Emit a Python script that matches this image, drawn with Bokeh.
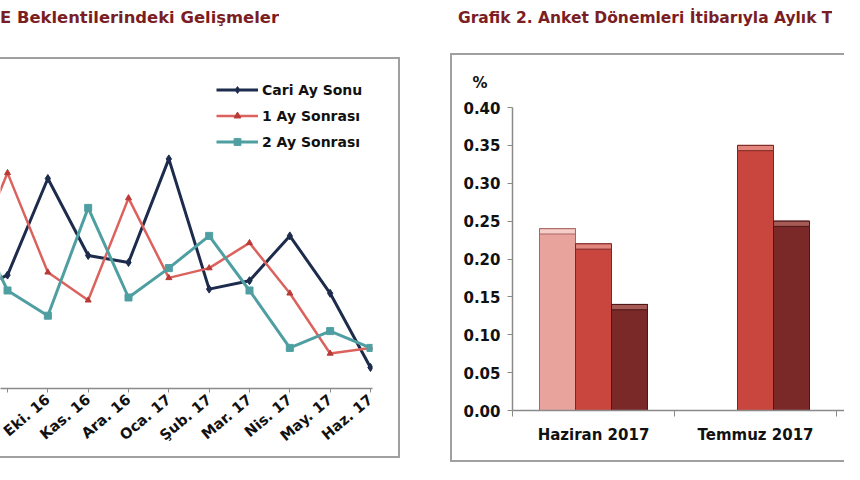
from bokeh.plotting import figure
from bokeh.layouts import row, column
from bokeh.models import (Range1d, FixedTicker, NumeralTickFormatter, Legend, LegendItem,
                          Title, Div, ColumnDataSource)
from bokeh.embed import file_html
from bokeh.resources import INLINE

# ---------------- data: left chart (monthly CPI expectations) ----------------
months = ["Ağu. 16", "Eyl. 16", "Eki. 16", "Kas. 16", "Ara. 16", "Oca. 17",
          "Şub. 17", "Mar. 17", "Nis. 17", "May. 17", "Haz. 17"]
cari_ay_sonu = [0.68, 0.81, 1.50, 0.95, 0.90, 1.64, 0.71, 0.77, 1.09, 0.68, 0.15]
bir_ay_sonrasi = [0.84, 1.54, 0.83, 0.63, 1.36, 0.79, 0.86, 1.04, 0.68, 0.25, 0.29]
iki_ay_sonrasi = [1.30, 0.70, 0.52, 1.29, 0.65, 0.86, 1.09, 0.70, 0.29, 0.41, 0.29]
series_names = ["Cari Ay Sonu", "1 Ay Sonrası", "2 Ay Sonrası"]
# months whose tick label lies outside the visible (cropped) area
hidden_labels = ["Ağu. 16", "Eyl. 16"]

# ---------------- data: right chart ----------------
periods = ["Haziran 2017", "Temmuz 2017"]
anket_a = [0.24, float("nan")]
anket_b = [0.22, 0.35]
anket_c = [0.14, 0.25]
y_ticks = [0.00, 0.05, 0.10, 0.15, 0.20, 0.25, 0.30, 0.35, 0.40]

title_left = "E Beklentilerindeki Gelişmeler"
title_right = "Grafik 2. Anket Dönemleri İtibarıyla Aylık T"

FONT = "DejaVu Sans"
TITLE_COLOR = "#7a1e24"
NAVY, RED, TEAL = "#1d2b4c", "#db625d", "#4f9fa2"
BOX = "2px solid #a0a0a0"


def style_axis(ax, size="15px"):
    ax.major_label_text_font = FONT
    ax.major_label_text_font_style = "bold"
    ax.major_label_text_font_size = size
    ax.major_label_text_color = "#111111"
    ax.axis_line_color = "#8a8a8a"
    ax.axis_line_width = 1.5
    ax.major_tick_line_color = "#8a8a8a"
    ax.major_tick_in = 0


# ================= LEFT FIGURE =================
xs = list(range(len(months)))
p1 = figure(width=398, height=397, output_backend="svg", toolbar_location=None,
            frame_width=372, frame_height=323,
            x_range=Range1d(0.826, 10.05), y_range=Range1d(0, 2.307),
            y_axis_location=None, min_border_left=0, min_border_right=26,
            min_border_top=6, min_border_bottom=68)
p1.outline_line_color = None
p1.xgrid.visible = False
p1.ygrid.visible = False

src = ColumnDataSource(dict(x=xs, a=cari_ay_sonu, b=bir_ay_sonrasi, c=iki_ay_sonrasi))
l_a = p1.line("x", "a", source=src, color=NAVY, line_width=3)
m_a = p1.scatter("x", "a", source=src, marker="diamond", size=8, color=NAVY)
l_b = p1.line("x", "b", source=src, color=RED, line_width=2.5)
m_b = p1.scatter("x", "b", source=src, marker="triangle", size=6, color="#b83a36")
l_c = p1.line("x", "c", source=src, color=TEAL, line_width=3)
m_c = p1.scatter("x", "c", source=src, marker="square", size=7, color=TEAL)

xa = p1.xaxis[0]
xa.ticker = FixedTicker(ticks=xs)
xa.major_label_overrides = {i: ("" if m in hidden_labels else m)
                            for i, m in enumerate(months)}
xa.major_label_orientation = 0.70
style_axis(xa, "14.5px")
xa.major_label_standoff = 5
xa.major_tick_out = 4
xa.minor_tick_line_color = None

legend = Legend(items=[LegendItem(label=series_names[0], renderers=[l_a, m_a]),
                       LegendItem(label=series_names[1], renderers=[l_b, m_b]),
                       LegendItem(label=series_names[2], renderers=[l_c, m_c])],
                location=(216, 238), orientation="vertical")
legend.glyph_width = 42
legend.glyph_height = 17
legend.label_height = 17
legend.spacing = 9
legend.padding = 0
legend.margin = 0
legend.label_standoff = 4
legend.label_text_font = FONT
legend.label_text_font_style = "bold"
legend.label_text_font_size = "14px"
legend.label_text_color = "#111111"
legend.border_line_color = None
legend.background_fill_alpha = 0
p1.add_layout(legend, "center")

# ================= RIGHT FIGURE =================
cat_px = 162.0
p2 = figure(width=392, height=405, output_backend="svg", toolbar_location=None,
            frame_width=332, frame_height=303,
            x_range=Range1d(0, 332 / cat_px), y_range=Range1d(0, 0.40),
            min_border_left=60, min_border_right=0, min_border_top=52,
            min_border_bottom=50)
p2.outline_line_color = None
p2.xgrid.visible = False
p2.ygrid.visible = False

centers = [i + 0.5 for i in range(len(periods))]
bw = 36.0 / cat_px
cap = 0.007
series = [(anket_a, -bw, "#e9a39d", "#f6cdc8", "#a86660"),
          (anket_b, 0.0, "#c9463f", "#e2857d", "#7d2723"),
          (anket_c, bw, "#7a2828", "#a65a56", "#4e1616")]
for vals, off, col, capcol, edge in series:
    bx = [c + off for c in centers]
    p2.vbar(x=bx, top=vals, bottom=0, width=bw, fill_color=col,
            line_color=edge, line_width=1)
    p2.vbar(x=bx, top=vals, bottom=[v - cap for v in vals], width=bw,
            fill_color=capcol, line_color=edge, line_width=1)

ya = p2.yaxis[0]
ya.ticker = FixedTicker(ticks=y_ticks)
ya.formatter = NumeralTickFormatter(format="0.00")
style_axis(ya)
ya.major_label_standoff = 7
ya.major_tick_out = 5
ya.minor_tick_line_color = None

xb = p2.xaxis[0]
xb.ticker = FixedTicker(ticks=centers, minor_ticks=[0, 1, 2, 3])
xb.major_label_overrides = {c: p for c, p in zip(centers, periods)}
style_axis(xb)
xb.major_label_standoff = 9
xb.major_tick_out = 0
xb.minor_tick_line_color = "#8a8a8a"
xb.minor_tick_out = 6
xb.minor_tick_in = 0

pct = Title(text="%", align="left", offset=-40, standoff=31, text_font=FONT,
            text_font_style="bold", text_font_size="15px", text_color="#111111")
p2.add_layout(pct, "above")


def title_div(text, width, height, pad_left, size):
    html = ('<div style="white-space:nowrap; overflow:hidden; padding-top:8px; '
            'margin-left:%dpx; line-height:20px; font-family:\'DejaVu Sans\'; '
            'font-weight:bold; font-size:%s; color:%s;">%s</div>'
            % (pad_left, size, TITLE_COLOR, text))
    return Div(text=html, width=width, height=height, margin=(0, 0, 0, 0),
               styles={"overflow": "hidden"})


d1 = title_div(title_left, 420, 57, 0, "16.4px")
d2 = title_div(title_right, 424, 53, 38, "15.5px")

box1 = column(p1, margin=(0, 0, 0, 0),
              styles={"border-top": BOX, "border-right": BOX, "border-bottom": BOX})
box2 = column(p2, margin=(0, 0, 0, 30),
              styles={"border-top": BOX, "border-left": BOX, "border-bottom": BOX})

col1 = column(d1, box1, width=420, margin=(0, 0, 0, 0))
col2 = column(d2, box2, width=424, margin=(0, 0, 0, 0))
layout = row(col1, col2, margin=(0, 0, 0, 0))
open("out.html", "w").write(file_html(layout, INLINE))
